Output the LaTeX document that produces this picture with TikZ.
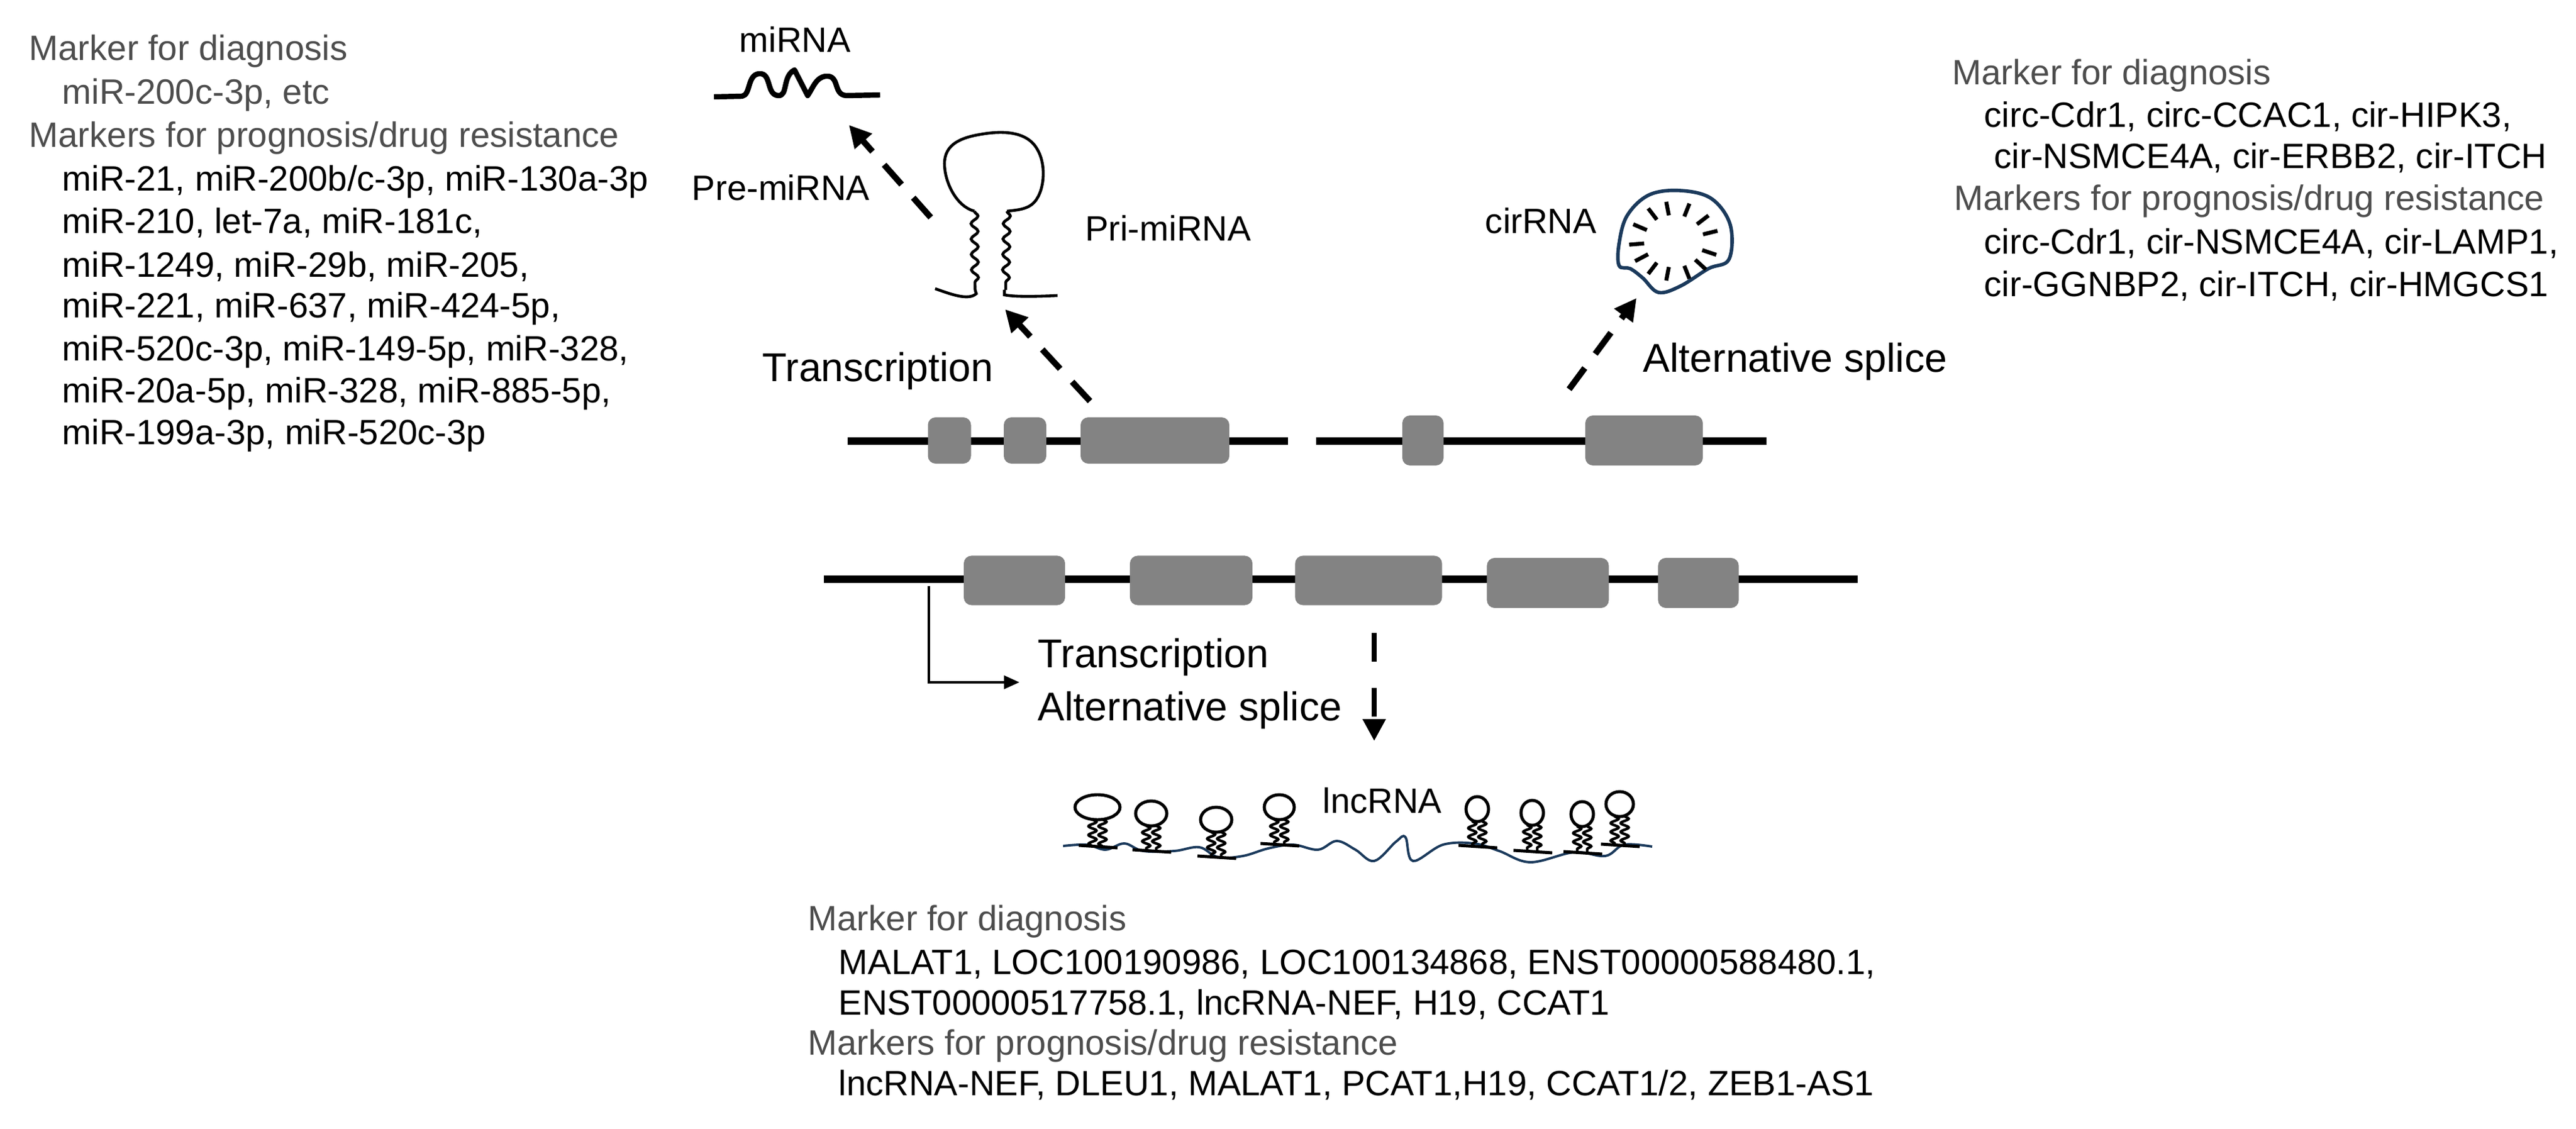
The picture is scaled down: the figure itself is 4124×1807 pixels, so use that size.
\documentclass[tikz,border=0pt]{standalone}
\usepackage{fontspec}
\setmainfont{Liberation Sans}
\usetikzlibrary{arrows.meta,decorations.pathmorphing,calc}
\definecolor{txtgray}{HTML}{4D4D4D}
\definecolor{exongray}{HTML}{838383}
\definecolor{navy}{HTML}{1B3A5C}
\begin{document}
\begin{tikzpicture}[x=0.01cm,y=-0.01cm,
  lst/.style={anchor=west,inner sep=0,font=\fontsize{16}{19}\selectfont},
  hdr/.style={lst,text=txtgray},
  lbl/.style={inner sep=0,font=\fontsize{16}{19}\selectfont},
  big/.style={anchor=west,inner sep=0,font=\fontsize{18.3}{22}\selectfont},
  gene/.style={line width=3.3pt},
  exon/.style={fill=exongray,draw=none,rounded corners=3.5pt,inner sep=0},
  darr/.style={line width=2.8pt,dash pattern=on 12pt off 8pt,-{Triangle[length=10pt,width=10pt]}},
  wig/.style={decorate,decoration={snake,amplitude=1.6pt,segment length=7pt}},
  swig/.style={decorate,decoration={snake,amplitude=1.8pt,segment length=4pt}},
  pics/hp/.style n args={2}{code={
    \draw[line width=1.4pt] (0,-#1) ellipse (#2 and 20);
    \draw[line width=1.2pt,swig] (-8,{-#1+19}) -- (-8,0);
    \draw[line width=1.2pt,swig] (8,{-#1+19}) -- (8,0);
    \draw[line width=1.4pt] (-30,-2) -- (32,2);
  }}]
\useasboundingbox (0,0) rectangle (4124,1807);

% ---------- left text block ----------
\node[hdr] (l1) at (46,82) {Marker for diagnosis};
\node[hdr] (l2) at (99,152) {miR-200c-3p, etc};
\node[hdr] (l3) at (46,221) {Markers for prognosis/drug resistance};
\node[lst] (l4) at (99,291) {miR-21, miR-200b/c-3p, miR-130a-3p};
\node[lst] (l5) at (99,357) {miR-210, let-7a, miR-181c,};
\node[lst] (l6) at (99,427) {miR-1249, miR-29b, miR-205,};
\node[lst] (l7) at (99,494) {miR-221, miR-637, miR-424-5p,};
\node[lst] (l8) at (99,563) {miR-520c-3p, miR-149-5p, miR-328,};
\node[lst] (l9) at (99,630) {miR-20a-5p, miR-328, miR-885-5p,};
\node[lst] (l10) at (99,697) {miR-199a-3p, miR-520c-3p};

% ---------- right text block ----------
\node[hdr] (r1) at (3125,121) {Marker for diagnosis};
\node[lst] (r2) at (3176,187) {circ-Cdr1, circ-CCAC1, cir-HIPK3,};
\node[lst] (r3) at (3192,253) {cir-NSMCE4A, cir-ERBB2, cir-ITCH};
\node[hdr] (r4) at (3128,322) {Markers for prognosis/drug resistance};
\node[lst] (r5) at (3176,390) {circ-Cdr1, cir-NSMCE4A, cir-LAMP1,};
\node[lst] (r6) at (3176,458) {cir-GGNBP2, cir-ITCH, cir-HMGCS1};

% ---------- bottom text block ----------
\node[hdr] (b1) at (1293,1475) {Marker for diagnosis};
\node[lst] (b2) at (1342,1543) {MALAT1, LOC100190986, LOC100134868, ENST00000588480.1,};
\node[lst] (b3) at (1342,1608) {ENST00000517758.1, lncRNA-NEF, H19, CCAT1};
\node[hdr] (b4) at (1293,1674) {Markers for prognosis/drug resistance};
\node[lst] (b5) at (1342,1737) {lncRNA-NEF, DLEU1, MALAT1, PCAT1,H19, CCAT1/2, ZEB1-AS1};

% ---------- labels ----------
\node[lbl] (mirna) at (1273,63) {miRNA};
\node[lbl] (pre) at (1250,300) {Pre-miRNA};
\node[lbl] (pri) at (1870,365) {Pri-miRNA};
\node[big] (tr1) at (1220,594) {Transcription};
\node[lbl] (cir) at (2467,353) {cirRNA};
\node[big] (as1) at (2630,579) {Alternative splice};
\node[big] (tr2) at (1661,1052) {Transcription};
\node[big] (as2) at (1661,1137) {Alternative splice};
\node[lbl] (lnc) at (2213,1281) {lncRNA};

% ---------- genes ----------
\coordinate (g1a) at (1357,706); \coordinate (g1b) at (2062,706);
\draw[gene] (g1a) -- (g1b);
\node[exon,minimum width=0.69cm,minimum height=0.74cm] (e11) at (1520,705) {};
\node[exon,minimum width=0.68cm,minimum height=0.74cm] (e12) at (1641,705) {};
\node[exon,minimum width=2.38cm,minimum height=0.74cm] (e13) at (1849,705) {};

\coordinate (g2a) at (2107,706); \coordinate (g2b) at (2828,706);
\draw[gene] (g2a) -- (g2b);
\node[exon,minimum width=0.66cm,minimum height=0.80cm] (e21) at (2278,705) {};
\node[exon,minimum width=1.88cm,minimum height=0.80cm] (e22) at (2632,705) {};

\coordinate (g3a) at (1319,927); \coordinate (g3b) at (2974,927);
\draw[gene] (g3a) -- (g3b);
\node[exon,minimum width=1.62cm,minimum height=0.79cm] (e31) at (1624,929) {};
\node[exon,minimum width=1.96cm,minimum height=0.79cm] (e32) at (1907,929) {};
\node[exon,minimum width=2.35cm,minimum height=0.79cm] (e33) at (2191,929) {};
\node[exon,minimum width=1.95cm,minimum height=0.80cm] (e34) at (2478,933) {};
\node[exon,minimum width=1.29cm,minimum height=0.80cm] (e35) at (2719,933) {};

% promoter arrow
\coordinate (p0) at (1487,938); \coordinate (p1) at (1487,1092); \coordinate (p2) at (1632,1092);
\draw[line width=1.1pt,-{Triangle[length=7pt,width=6pt]}] (p0) -- (p1) -- (p2);

% ---------- miRNA squiggle ----------
\draw[line width=2.4pt,line join=round]
 (1143,155) -- (1188,154) .. controls (1202,152) and (1196,120) .. (1215,118)
 .. controls (1236,116) and (1226,152) .. (1246,153)
 .. controls (1262,154) and (1252,122) .. (1272,112) -- (1293,153)
 .. controls (1302,140) and (1306,124) .. (1322,122)
 .. controls (1345,120) and (1333,152) .. (1355,153) -- (1409,152);

% ---------- pri-miRNA hairpin ----------
\draw[line width=1.3pt,line join=round]
 (1560,338) .. controls (1530,330) and (1512,290) .. (1512,262)
 .. controls (1512,230) and (1540,220) .. (1570,215)
 .. controls (1610,208) and (1645,212) .. (1660,238)
 .. controls (1675,262) and (1672,300) .. (1660,318)
 .. controls (1650,335) and (1630,336) .. (1612,338);
\draw[line width=1.3pt,wig] (1560,338) -- (1561,464);
\draw[line width=1.3pt,wig] (1612,338) -- (1610,464);
\draw[line width=1.3pt] (1497,462) .. controls (1520,470) and (1550,482) .. (1563,470) -- (1561,464);
\draw[line width=1.3pt] (1608,464) -- (1608,472) .. controls (1630,476) and (1670,474) .. (1693,473);

% ---------- cirRNA ----------
\coordinate (cc) at (2680,386);
\draw[navy,line width=1.6pt] plot[smooth cycle,tension=0.6] coordinates {
 (2592,390) (2605,345) (2640,312) (2690,305) (2740,318) (2770,360) (2768,415)
 (2735,430) (2690,458) (2655,468) (2630,445) (2610,430) (2592,425)};
\foreach \a in {20,45,70,100,125,150,175,205,235,260,290,320,345}
  \draw[line width=1.8pt] ($(cc)+(\a:72 and 64)$) -- ($(cc)+(\a:48 and 42)$);

% ---------- lncRNA ----------
\draw[navy,line width=1.1pt] plot[smooth,tension=0.6] coordinates {
 (1702,1354) (1740,1352) (1770,1360) (1800,1350) (1830,1362) (1880,1362) (1920,1356)
 (1950,1372) (1990,1370) (2030,1358) (2070,1352) (2110,1360) (2140,1346) (2170,1360)
 (2200,1378) (2235,1347) (2250,1340) (2262,1378) (2310,1352) (2360,1350) (2400,1362)
 (2450,1380) (2520,1364) (2570,1370) (2600,1352) (2645,1355)};
\pic at (1757,1355) {hp={63}{36}};
\pic at (1843,1362) {hp={60}{25}};
\pic at (1947,1372) {hp={60}{25}};
\pic at (2048,1352) {hp={60}{24}};
\pic at (2365,1355) {hp={60}{18}};
\pic at (2453,1363) {hp={62}{18}};
\pic at (2533,1365) {hp={62}{18}};
\pic at (2593,1353) {hp={66}{22}};

% ---------- dashed arrows ----------
\coordinate (a1s) at (1490,348); \coordinate (a1e) at (1359,200);
\coordinate (a2s) at (1745,642); \coordinate (a2e) at (1609,495);
\coordinate (a3s) at (2512,623); \coordinate (a3e) at (2620,477);
\coordinate (a4s) at (2200,1013); \coordinate (a4e) at (2200,1186);
\draw[darr] (a1s) -- (a1e);
\draw[darr] (a2s) -- (a2e);
\draw[darr] (a3s) -- (a3e);
\draw[darr,line width=2.4pt,dash pattern=on 13pt off 12pt] (a4s) -- (a4e);
\end{tikzpicture}
\end{document}
